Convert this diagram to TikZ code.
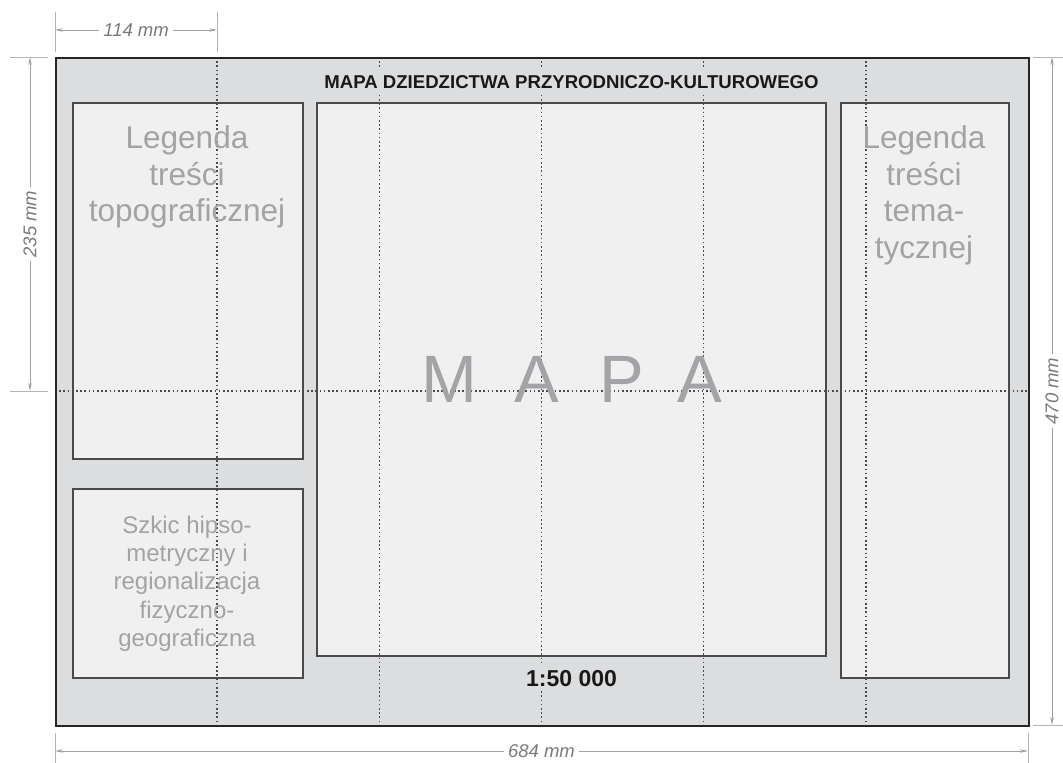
\documentclass[tikz,border=0pt]{standalone}
\usepackage{fontspec}
\setmainfont{Liberation Sans}
\usetikzlibrary{arrows.meta}
\definecolor{sheetfill}{HTML}{DCDDDF}
\definecolor{boxfill}{HTML}{F0F0F0}
\definecolor{boxline}{HTML}{4A4A4A}
\definecolor{foldcol}{HTML}{4A4A4A}
\definecolor{legtext}{HTML}{A3A3A3}
\definecolor{mapatext}{HTML}{A2A4A7}
\definecolor{dimline}{HTML}{A0A0A0}
\definecolor{dimtext}{HTML}{7A7A7A}
\definecolor{extline}{HTML}{B4B4B4}
\tikzset{
  sheetbox/.style={fill=sheetfill, draw=none, inner sep=0pt, anchor=north west},
  panel/.style={fill=boxfill, draw=boxline, line width=1.5pt, inner sep=0pt, anchor=north west},
  sheetframe/.style={draw=black!85, line width=2pt, fill=none, inner sep=0pt, anchor=north west},
  fold/.style={draw=foldcol, line width=1.6pt, dash pattern=on 1.6pt off 2.6pt},
  legend/.style={text=legtext, align=center, anchor=north, inner sep=0pt,
    font=\fontsize{31.5}{36.5}\selectfont},
  sketchtext/.style={text=legtext, align=center, anchor=north, inner sep=0pt,
    font=\fontsize{24}{28.2}\selectfont},
  mapaletter/.style={text=mapatext, anchor=base, inner sep=0pt,
    font=\fontsize{67}{80}\selectfont},
  titletext/.style={anchor=base, inner sep=0pt, text=black!90, fill=sheetfill,
    inner ysep=5pt, inner xsep=0pt,
    font=\fontsize{18.6}{22}\selectfont\bfseries},
  scaletext/.style={anchor=base, text=black!90, fill=sheetfill,
    inner ysep=4pt, inner xsep=0pt,
    font=\fontsize{23}{27}\selectfont\bfseries},
  extension/.style={draw=extline, line width=1pt},
  dimension/.style={draw=dimline, line width=1pt,
    arrows={Stealth[length=8pt,width=3.5pt]-Stealth[length=8pt,width=3.5pt]}},
  dimlabel/.style={fill=white, text=dimtext, inner sep=4pt,
    font=\fontsize{18.5}{22}\selectfont\itshape},
}
\begin{document}
\begin{tikzpicture}[x=1pt, y=-1pt]
\useasboundingbox (0,0) rectangle (1063,763);
% sheet
\node[sheetbox, minimum width=973pt, minimum height=668pt] (sheet) at (55,57) {};
% panels
\node[panel, minimum width=230pt, minimum height=356pt] (ltop) at (72,102) {};
\node[panel, minimum width=230pt, minimum height=189pt] (lbot) at (72,488) {};
\node[panel, minimum width=509pt, minimum height=553pt] (map) at (316,102) {};
\node[panel, minimum width=168pt, minimum height=575pt] (rbox) at (840,102) {};
% fold lines
\foreach \i/\x in {1/217.17,2/379.33,3/541.5,4/703.67,5/865.83}{
  \coordinate (ft\i) at (\x,57);
  \coordinate (fb\i) at (\x,725);
  \draw[fold] (ft\i) -- (fb\i);
}
\coordinate (fl) at (55,391);
\coordinate (fr) at (1028,391);
\draw[fold] (fl) -- (fr);
% texts
\node[legend] (ltoptext) at (187,125.5) {Legenda\\treści\\topograficznej};
\node[legend] (rtext) at (924,125.5) {Legenda\\treści\\tema-\\tycznej};
\node[sketchtext] (lbottext) at (187,516) {Szkic hipso-\\metryczny i\\regionalizacja\\fizyczno-\\geograficzna};
\node[mapaletter] (m1) at (449,402) {M};
\node[mapaletter] (m2) at (537,402) {A};
\node[mapaletter] (m3) at (622,402) {P};
\node[mapaletter] (m4) at (699.5,402) {A};
\node[titletext] (title) at (571.5,88) {MAPA DZIEDZICTWA PRZYRODNICZO-KULTUROWEGO};
\node[scaletext] (scale) at (571.5,686) {1:50 000};
% outer frame
\node[sheetframe, minimum width=973pt, minimum height=668pt] (frame) at (55,57) {};
% dimensions: top
\coordinate (t1a) at (55,12); \coordinate (t1b) at (55,52);
\coordinate (t2a) at (217.17,12); \coordinate (t2b) at (217.17,52);
\draw[extension] (t1a) -- (t1b);
\draw[extension] (t2a) -- (t2b);
\coordinate (tda) at (55,30); \coordinate (tdb) at (217.17,30);
\draw[dimension] (tda) -- node[dimlabel] (tlab) {114 mm} (tdb);
% left
\coordinate (l1a) at (10,57); \coordinate (l1b) at (48,57);
\coordinate (l2a) at (10,391); \coordinate (l2b) at (48,391);
\draw[extension] (l1a) -- (l1b);
\draw[extension] (l2a) -- (l2b);
\coordinate (lda) at (30,57); \coordinate (ldb) at (30,391);
\draw[dimension] (lda) -- node[dimlabel, rotate=90] (llab) {235 mm} (ldb);
% right
\coordinate (r1a) at (1033,57); \coordinate (r1b) at (1063,57);
\coordinate (r2a) at (1033,725); \coordinate (r2b) at (1063,725);
\draw[extension] (r1a) -- (r1b);
\draw[extension] (r2a) -- (r2b);
\coordinate (rda) at (1052,57); \coordinate (rdb) at (1052,725);
\draw[dimension] (rda) -- node[dimlabel, rotate=90] (rlab) {470 mm} (rdb);
% bottom
\coordinate (b1a) at (55,733); \coordinate (b1b) at (55,763);
\coordinate (b2a) at (1028,733); \coordinate (b2b) at (1028,763);
\draw[extension] (b1a) -- (b1b);
\draw[extension] (b2a) -- (b2b);
\coordinate (bda) at (55,751); \coordinate (bdb) at (1028,751);
\draw[dimension] (bda) -- node[dimlabel] (blab) {684 mm} (bdb);
\end{tikzpicture}
\end{document}
